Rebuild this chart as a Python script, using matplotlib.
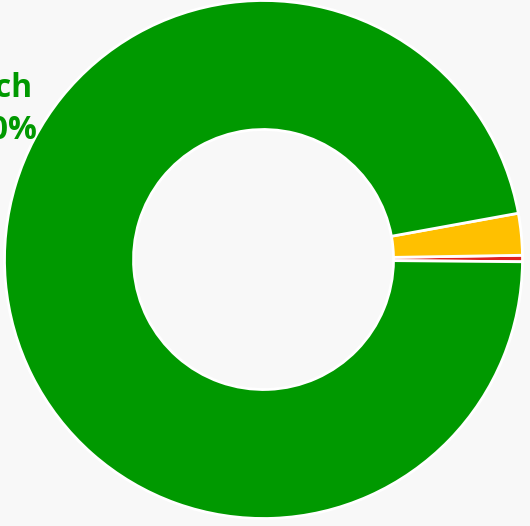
import matplotlib
matplotlib.use("Agg")
import matplotlib.pyplot as plt

labels = ["Other", "Minor", "Search"]
values = [0.4, 2.6, 97.0]
colors = ["#e02020", "#ffc000", "#009900"]

W, H = 530, 526
fig = plt.figure(figsize=(W / 100, H / 100), dpi=100, facecolor="#f8f8f8")
ax = fig.add_axes([0, 0, 1, 1])
ax.set_facecolor("#f8f8f8")

cx, cy, R = 263.5, H - 259.5, 259
ax.pie(values, colors=colors, startangle=-0.5, counterclock=True,
       center=(cx, cy), radius=R, frame=True,
       wedgeprops=dict(width=129, edgecolor="white", linewidth=2))
ax.set_xlim(0, W)
ax.set_ylim(0, H)
ax.set_aspect("equal")
ax.axis("off")

ax.text(33, H - 97, labels[2], ha="right", va="baseline", fontsize=23,
        fontweight="bold", color="#009900", family="Open Sans")
ax.text(37, H - 139, f"{values[2]:.1f}%", ha="right", va="baseline", fontsize=23,
        fontweight="bold", color="#009900", family="Open Sans")

fig.savefig("out.png", dpi=100, facecolor="#f8f8f8")
